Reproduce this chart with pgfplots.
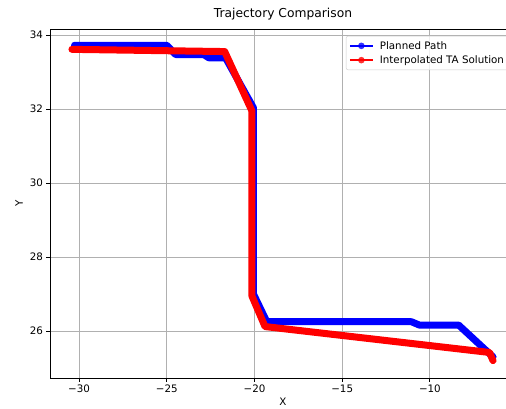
\documentclass[border=0pt]{standalone}
\usepackage{fontspec}
\setmainfont{DejaVu Sans}
\usepackage{pgfplots}
\pgfplotsset{compat=1.18}
\begin{document}
\begin{tikzpicture}
\begin{axis}[
  at={(0,0)}, anchor=south west,
  width=466pt, height=349pt, scale only axis,
  xmin=-31.66, xmax=-5.09, ymin=24.73, ymax=34.16,
  xtick={-30,-25,-20,-15,-10}, xticklabels={−30,−25,−20,−15,−10},
  ytick={26,28,30,32,34}, yticklabels={26,28,30,32,34},
  tick align=outside, major tick length=3.5pt, tick pos=left,
  tick style={line width=0.8pt, black},
  grid=major, grid style={color=black!31, line width=0.8pt},
  axis line style={line width=0.8pt, black},
  title={Trajectory Comparison},
  title style={font=\fontsize{12.3}{14}\selectfont, yshift=-1pt},
  xlabel={X}, ylabel={Y},
  xlabel style={yshift=2pt},
  tick label style={font=\fontsize{10.3}{12}\selectfont},
  label style={font=\fontsize{10.3}{12}\selectfont},
  legend style={at={(0.635,0.98)}, anchor=north west, draw=black!20,
    rounded corners=2pt, fill=white, fill opacity=0.8, text opacity=1,
    font=\fontsize{10.3}{12}\selectfont, row sep=1pt, inner sep=3pt},
  legend cell align=left,
]
\addplot[blue, line width=7pt, line join=round, line cap=round,
  legend image code/.code={\draw[blue,line width=1.5pt,line cap=butt] (0pt,0pt) -- (23pt,0pt); \path[fill=blue,draw=none,line width=0pt] (11.5pt,0pt) circle (3.3pt); \path[draw=none,fill=none,line width=0pt] (0pt,0pt) -- (28pt,0pt);}]
coordinates {
(-30.26,33.72) (-25.0,33.72) (-24.5,33.47) (-22.9,33.47) (-22.6,33.38)
(-21.65,33.38) (-20.06,32.03) (-20.06,27.0) (-19.3,26.25) (-11.05,26.25)
(-10.6,26.16) (-8.36,26.16) (-6.4,25.3)
};
\addlegendentry{Planned Path}
\addplot[red, line width=7pt, line join=round, line cap=round,
  legend image code/.code={\draw[red,line width=1.5pt,line cap=butt] (0pt,0pt) -- (23pt,0pt); \path[fill=red,draw=none,line width=0pt] (11.5pt,0pt) circle (3.3pt); \path[draw=none,fill=none,line width=0pt] (0pt,0pt) -- (28pt,0pt);}]
coordinates {
(-30.41,33.61) (-21.7,33.55) (-20.15,31.95) (-20.15,26.95) (-19.4,26.12)
(-6.6,25.42) (-6.4,25.2)
};
\addlegendentry{Interpolated TA Solution}
\end{axis}
\pgfresetboundingbox
\useasboundingbox (-50pt,-30pt) rectangle (456pt,378pt);
\end{tikzpicture}
\end{document}
